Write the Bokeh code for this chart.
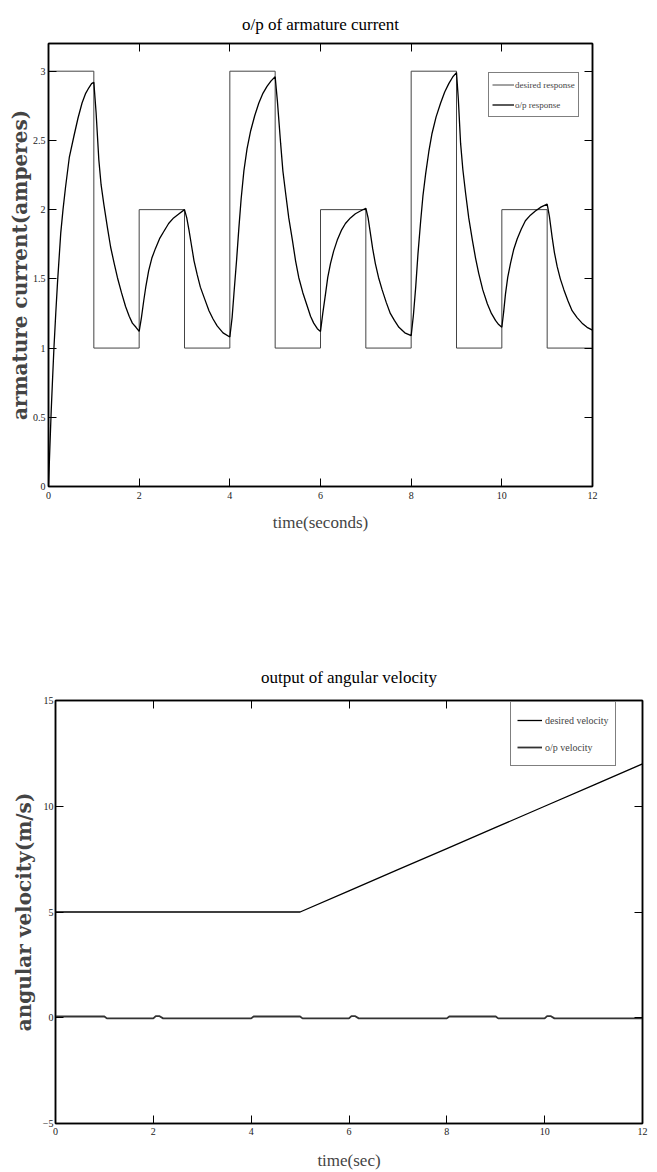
from bokeh.plotting import figure
from bokeh.models import (LinearAxis, FixedTicker, Legend, LegendItem,
                          CustomJSTickFormatter, Range1d)
from bokeh.embed import file_html
from bokeh.resources import INLINE

# ---------------- data: armature current ----------------
step_t = [0, 1, 2, 3, 4, 5, 6, 7, 8, 9, 10, 11, 12]
desired_current = [3, 1, 2, 1, 3, 1, 2, 1, 3, 1, 2, 1, 1]

resp_t = [0, 0.03, 0.06, 0.09, 0.12, 0.16, 0.2, 0.27, 0.32, 0.375, 0.46, 0.56, 0.65, 0.74, 0.82, 0.89, 0.95,
          1.0, 1.05, 1.11, 1.16, 1.22, 1.30, 1.37, 1.45, 1.52, 1.61, 1.70, 1.78, 1.85, 1.93,
          2.0, 2.05, 2.10, 2.15, 2.21, 2.28, 2.36, 2.45, 2.54, 2.65, 2.76, 2.88,
          3.0, 3.05, 3.10, 3.15, 3.21, 3.28, 3.35, 3.45, 3.54, 3.63, 3.72, 3.85,
          4.0, 4.05, 4.09, 4.15, 4.20, 4.25, 4.31, 4.38, 4.46, 4.55, 4.64, 4.73, 4.82, 4.91,
          5.0, 5.05, 5.12, 5.17, 5.23, 5.30, 5.38, 5.45, 5.52, 5.61, 5.71, 5.78, 5.85, 5.93,
          6.0, 6.05, 6.11, 6.16, 6.22, 6.29, 6.37, 6.46, 6.55, 6.66, 6.77, 6.88,
          7.0, 7.05, 7.10, 7.15, 7.21, 7.28, 7.36, 7.45, 7.54, 7.63, 7.73, 7.86,
          8.0, 8.05, 8.10, 8.15, 8.21, 8.26, 8.32, 8.39, 8.46, 8.55, 8.65, 8.74, 8.83, 8.92,
          9.0, 9.04, 9.09, 9.14, 9.20, 9.27, 9.35, 9.42, 9.49, 9.58, 9.68, 9.77, 9.86, 9.93,
          10.0, 10.04, 10.08, 10.13, 10.19, 10.26, 10.34, 10.43, 10.52, 10.63, 10.74, 10.87,
          11.0, 11.05, 11.11, 11.16, 11.22, 11.29, 11.37, 11.46, 11.55, 11.66, 11.77, 11.88,
          12.0]
resp_current = [0, 0.28, 0.55, 0.78, 1.0, 1.25, 1.48, 1.83, 2.0, 2.16, 2.38, 2.53, 2.66, 2.77, 2.84, 2.88, 2.91,
                2.92, 2.70, 2.36, 2.18, 2.04, 1.87, 1.73, 1.61, 1.51, 1.40, 1.30, 1.23, 1.18, 1.15,
                1.12, 1.22, 1.34, 1.45, 1.56, 1.65, 1.72, 1.79, 1.84, 1.90, 1.94, 1.97,
                2.0, 1.94, 1.85, 1.75, 1.63, 1.53, 1.44, 1.35, 1.27, 1.21, 1.16, 1.11,
                1.08, 1.22, 1.39, 1.64, 1.87, 2.08, 2.28, 2.44, 2.57, 2.68, 2.77, 2.84, 2.89, 2.93,
                2.96, 2.78, 2.48, 2.28, 2.12, 1.94, 1.78, 1.63, 1.51, 1.40, 1.30, 1.23, 1.18, 1.14,
                1.12, 1.25, 1.39, 1.51, 1.61, 1.70, 1.78, 1.85, 1.90, 1.94, 1.97, 1.99,
                2.01, 1.94, 1.83, 1.72, 1.61, 1.51, 1.42, 1.33, 1.25, 1.20, 1.15, 1.11,
                1.09, 1.24, 1.44, 1.68, 1.92, 2.10, 2.26, 2.42, 2.55, 2.67, 2.77, 2.85, 2.91, 2.96,
                2.99, 2.80, 2.48, 2.29, 2.12, 1.94, 1.78, 1.65, 1.54, 1.42, 1.32, 1.25, 1.20, 1.17,
                1.15, 1.26, 1.39, 1.51, 1.61, 1.71, 1.79, 1.86, 1.92, 1.96, 1.99, 2.02,
                2.04, 1.95, 1.80, 1.69, 1.59, 1.50, 1.42, 1.34, 1.27, 1.22, 1.18, 1.15,
                1.13]

cur_x_ticks = [0, 2, 4, 6, 8, 10, 12]
cur_y_ticks = [0, 0.5, 1, 1.5, 2, 2.5, 3]
cur_y_labels = ["0", "0.5", "1", "1.5", "2", "2.5", "3"]

# ---------------- data: angular velocity ----------------
vel_des_t = [0, 5, 6, 7, 8, 9, 10, 11, 12]
vel_desired = [5, 5, 6, 7, 8, 9, 10, 11, 12]

vel_out_t = [0, 1.0, 1.05, 2.0, 2.05, 2.12, 2.2, 4.0, 4.05, 5.0, 5.05, 6.0, 6.05,
             6.12, 6.2, 8.0, 8.05, 9.0, 9.05, 10.0, 10.05, 10.12, 10.2, 12]
vel_output = [0.06, 0.06, -0.03, -0.03, 0.08, 0.08, -0.03, -0.03, 0.06, 0.06, -0.03,
              -0.03, 0.08, 0.08, -0.03, -0.03, 0.06, 0.06, -0.03, -0.03, 0.08, 0.08,
              -0.03, -0.03]

vel_x_ticks = [0, 2, 4, 6, 8, 10, 12]
vel_y_ticks = [-5, 0, 5, 10, 15]

SERIF = "Liberation Serif"
LABEL_FONT = "DejaVu Serif"


def style_axis(ax, ticks, show_labels=True, overrides=None, standoff=4):
    ax.ticker = FixedTicker(ticks=ticks)
    ax.major_tick_in = 8
    ax.major_tick_out = 0
    ax.minor_tick_in = 0
    ax.minor_tick_out = 0
    ax.axis_line_color = "black"
    ax.axis_line_width = 1.5
    ax.major_tick_line_color = "black"
    ax.major_tick_line_width = 1
    if show_labels:
        ax.major_label_text_font = SERIF
        ax.major_label_text_font_size = "10px"
        ax.major_label_text_color = "#222222"
        ax.major_label_standoff = standoff
        if overrides:
            ax.major_label_overrides = overrides
    else:
        ax.formatter = CustomJSTickFormatter(code="return ''")
        ax.major_label_text_font_size = "1px"
        ax.major_label_standoff = 0


def make_fig(height, xr, yr, borders, title):
    l, r, t, b = borders
    p = figure(width=657, height=height, output_backend="svg", toolbar_location=None,
               x_range=Range1d(*xr), y_range=Range1d(*yr),
               min_border_left=l, min_border_right=r, min_border_top=t,
               min_border_bottom=b, title=title)
    p.grid.visible = False
    p.outline_line_color = "black"
    p.outline_line_width = 1.5
    p.title.text_font = SERIF
    p.title.text_font_size = "17px"
    p.title.text_font_style = "normal"
    p.title.align = "center"
    p.title.text_color = "black"
    return p


# ---------------- figure 1 ----------------
p1 = make_fig(586, (0, 12), (0, 3.2), (48, 65, 43, 100), "o/p of armature current")
p1.title.standoff = 20
r_des = p1.step(step_t, desired_current, mode="after", line_color="#444444", line_width=1)
r_out = p1.line(resp_t, resp_current, line_color="black", line_width=1.3)

style_axis(p1.xaxis[0], cur_x_ticks, standoff=5)
style_axis(p1.yaxis[0], cur_y_ticks,
           overrides={v: s for v, s in zip(cur_y_ticks, cur_y_labels)}, standoff=3)
p1.xaxis.axis_label = "time(seconds)"
p1.xaxis.axis_label_text_font = SERIF
p1.xaxis.axis_label_text_font_size = "17px"
p1.xaxis.axis_label_text_font_style = "normal"
p1.xaxis.axis_label_standoff = 11
p1.yaxis.axis_label = "armature current(amperes)"
p1.yaxis.axis_label_text_font = LABEL_FONT
p1.yaxis.axis_label_text_font_size = "20px"
p1.yaxis.axis_label_text_font_style = "bold"
p1.yaxis.axis_label_standoff = -2
ax_top = LinearAxis()
style_axis(ax_top, cur_x_ticks, show_labels=False)
p1.add_layout(ax_top, "above")
ax_right = LinearAxis()
style_axis(ax_right, cur_y_ticks, show_labels=False)
p1.add_layout(ax_right, "right")

leg1 = Legend(items=[LegendItem(label="desired response", renderers=[r_des]),
                     LegendItem(label="o/p response", renderers=[r_out])],
              location=(440, 369), margin=0, padding=3, spacing=3,
              glyph_width=22, glyph_height=17, label_height=17, label_standoff=1,
              label_text_font=SERIF, label_text_font_size="9px",
              border_line_color="black", border_line_width=1.2,
              background_fill_color="white", background_fill_alpha=1)
p1.add_layout(leg1)

# ---------------- figure 2 ----------------
p2 = make_fig(586, (0, 12), (-5, 15), (55, 15, 114, 49), "output of angular velocity")
p2.title.standoff = 28
r_vd = p2.line(vel_des_t, vel_desired, line_color="black", line_width=1.3)
r_vo = p2.line(vel_out_t, vel_output, line_color="#333333", line_width=1.8)

style_axis(p2.xaxis[0], vel_x_ticks, standoff=4)
style_axis(p2.yaxis[0], vel_y_ticks, standoff=2)
p2.xaxis.axis_label = "time(sec)"
p2.xaxis.axis_label_text_font = SERIF
p2.xaxis.axis_label_text_font_size = "17px"
p2.xaxis.axis_label_text_font_style = "normal"
p2.xaxis.axis_label_standoff = 13
p2.yaxis.axis_label = "angular velocity(m/s)"
p2.yaxis.axis_label_text_font = LABEL_FONT
p2.yaxis.axis_label_text_font_size = "20px"
p2.yaxis.axis_label_text_font_style = "bold"
p2.yaxis.axis_label_standoff = 4
ax_top2 = LinearAxis()
style_axis(ax_top2, vel_x_ticks, show_labels=False)
p2.add_layout(ax_top2, "above")
ax_right2 = LinearAxis()
style_axis(ax_right2, vel_y_ticks, show_labels=False)
p2.add_layout(ax_right2, "right")

leg2 = Legend(items=[LegendItem(label="desired velocity", renderers=[r_vd]),
                     LegendItem(label="o/p velocity", renderers=[r_vo])],
              location=(455, 357), margin=0, padding=6, spacing=3,
              glyph_width=25, glyph_height=24, label_height=24, label_standoff=3,
              label_text_font=SERIF, label_text_font_size="10px",
              border_line_color="black", border_line_width=1.2,
              background_fill_color="white", background_fill_alpha=1)
p2.add_layout(leg2)

open("out.html", "w").write(file_html([p1, p2], INLINE))
